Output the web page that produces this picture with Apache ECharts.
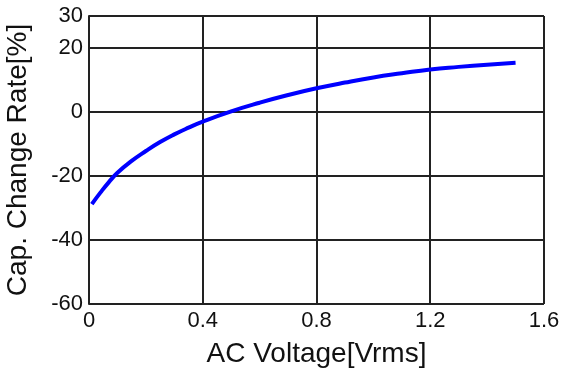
<!DOCTYPE html>
<html>
<head>
<meta charset="utf-8">
<script src="https://cdn.jsdelivr.net/npm/echarts@6/dist/echarts.min.js"></script>
<style>html,body{margin:0;padding:0;background:#fff;}#c{width:577px;height:373px;}</style>
</head>
<body>
<div id="c"></div>
<script>
const voltage = [0.01,0.04,0.07,0.1,0.15,0.2,0.25,0.3,0.35,0.4,0.5,0.6,0.7,0.8,0.9,1.0,1.1,1.2,1.3,1.4,1.5];
const capChange = [-28.8,-25.2,-21.9,-19.0,-15.3,-12.2,-9.4,-7,-4.9,-3.0,0.2,2.9,5.3,7.4,9.2,10.8,12.1,13.3,14.1,14.8,15.4];
const xName = 'AC Voltage[Vrms]';
const yName = 'Cap. Change Rate[%]';

const chart = echarts.init(document.getElementById('c'), null, {renderer:'canvas'});
const lineStyle = {color:'#222', width:2};
chart.setOption({
  animation:false,
  grid:{left:89, right:33, top:16, bottom:69, containLabel:false, outerBoundsMode:'none'},
  xAxis:{
    type:'value', min:0, max:1.6, interval:0.4,
    name:xName, nameLocation:'middle', nameGap:36,
    nameTextStyle:{fontFamily:'Liberation Sans', fontSize:28, color:'#111'},
    axisLine:{lineStyle:lineStyle}, axisTick:{show:false},
    axisLabel:{fontFamily:'Liberation Sans', fontSize:22, color:'#111', margin:6},
    splitLine:{show:true, lineStyle:lineStyle}
  },
  yAxis:{
    type:'value', min:-60, max:30, interval:20,
    name:yName, nameLocation:'middle', nameGap:57,
    nameTextStyle:{fontFamily:'Liberation Sans', fontSize:28, color:'#111'},
    axisLine:{show:true, lineStyle:lineStyle}, axisTick:{show:false},
    axisLabel:{fontFamily:'Liberation Sans', fontSize:22, color:'#111', margin:6},
    splitLine:{show:true, lineStyle:lineStyle}
  },
  series:[{
    type:'line', smooth:true, symbol:'none',
    data: voltage.map((v,i)=>[v, capChange[i]]),
    lineStyle:{color:'#0000ff', width:4}
  }]
});
</script>
</body>
</html>
